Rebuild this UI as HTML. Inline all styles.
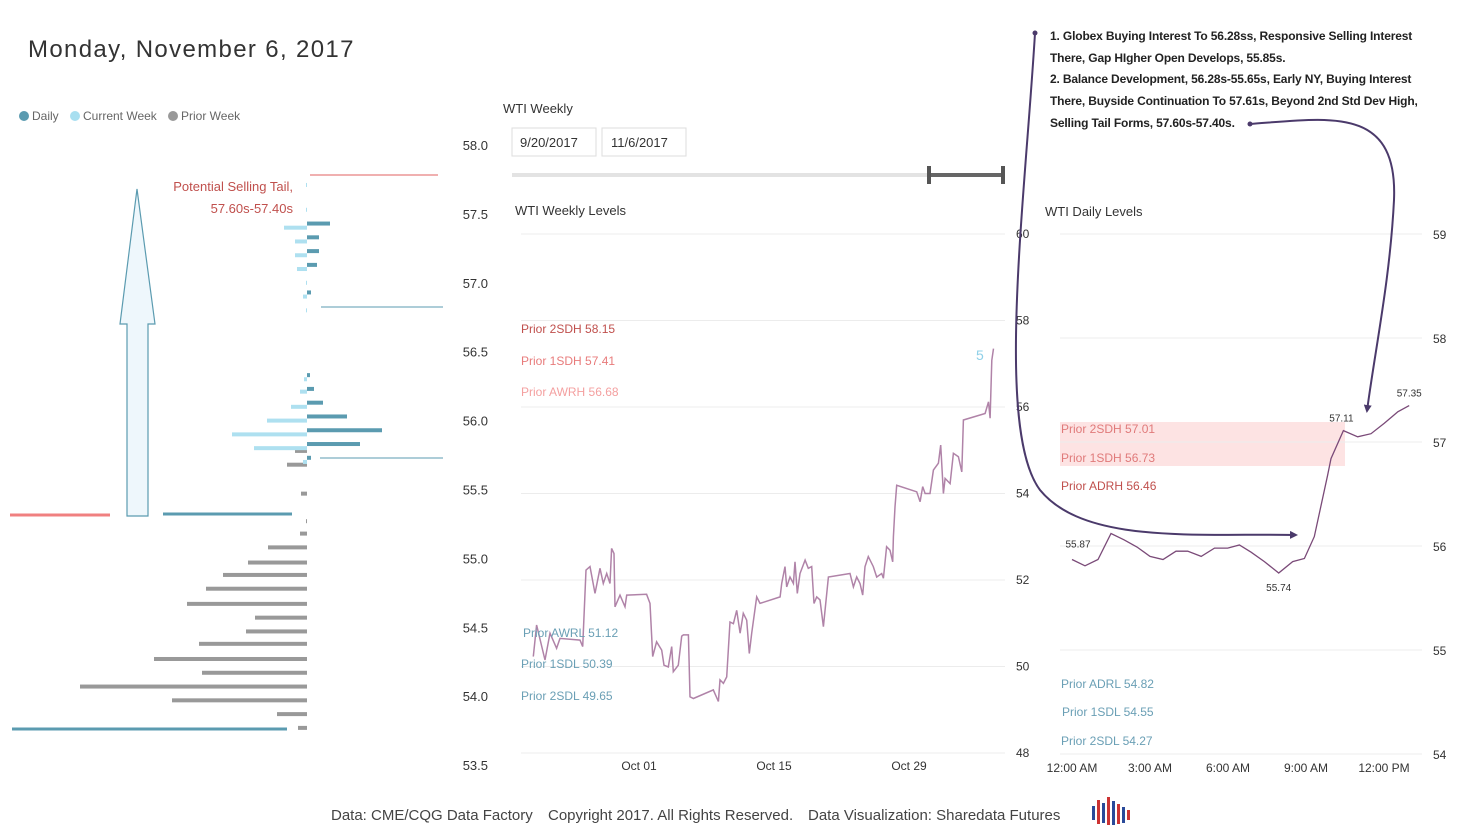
<!DOCTYPE html>
<html><head><meta charset="utf-8"><style>
body{margin:0;background:#fff;width:1458px;height:836px;overflow:hidden;font-family:"Liberation Sans",sans-serif}
svg{position:absolute;left:0;top:0}
text{font-family:"Liberation Sans",sans-serif}
</style></head><body>
<svg id="s" width="1458" height="836" viewBox="0 0 1458 836">
<defs>
<marker id="ah" markerWidth="8" markerHeight="8" refX="6" refY="4" orient="auto" markerUnits="userSpaceOnUse"><path d="M0,0 L8,4 L0,8 z" fill="#4b3a6b"/></marker>
</defs>
<text x="28" y="57" font-size="24" fill="#333" letter-spacing="1.35">Monday, November 6, 2017</text>
<g font-size="12" fill="#666">
<circle cx="24" cy="116" r="5" fill="#5b9bb0"/><text x="32" y="120">Daily</text>
<circle cx="75" cy="116" r="5" fill="#a8dff0"/><text x="83" y="120">Current Week</text>
<circle cx="173" cy="116" r="5" fill="#999"/><text x="181" y="120">Prior Week</text>
</g>
<g id="profile"></g>
<path d="M127,516 L127,324 L120,324 L137,189 L155,324 L148,324 L148,516 Z" fill="#eef7fc" stroke="#5b9bb0" stroke-width="1.2"/>
<line x1="10" y1="515" x2="110" y2="515" stroke="#f08080" stroke-width="3"/>
<line x1="163" y1="514" x2="292" y2="514" stroke="#5b9bb0" stroke-width="3"/>
<line x1="12" y1="729" x2="287" y2="729" stroke="#5b9bb0" stroke-width="3"/>
<line x1="310" y1="175" x2="438" y2="175" stroke="#e06060" stroke-width="1"/>
<line x1="321" y1="307" x2="443" y2="307" stroke="#5b9bb0" stroke-width="1"/>
<line x1="320" y1="458" x2="443" y2="458" stroke="#5b9bb0" stroke-width="1"/>
<text x="293" y="191" font-size="13" fill="#c0504d" text-anchor="end">Potential Selling Tail,</text>
<text x="293" y="213" font-size="13" fill="#c0504d" text-anchor="end">57.60s-57.40s</text>
<g id="paxis" font-size="13" fill="#333" text-anchor="end"></g>

<text x="503" y="113" font-size="13" fill="#333">WTI Weekly</text>
<rect x="512" y="128" width="84" height="28" fill="#fff" stroke="#ddd"/>
<text x="520" y="147" font-size="13" fill="#333">9/20/2017</text>
<rect x="602" y="128" width="84" height="28" fill="#fff" stroke="#ddd"/>
<text x="611" y="147" font-size="13" fill="#333">11/6/2017</text>
<line x1="512" y1="175" x2="1005" y2="175" stroke="#e3e3e3" stroke-width="4"/>
<line x1="929" y1="175" x2="1004" y2="175" stroke="#666" stroke-width="4"/>
<rect x="927" y="166" width="4" height="18" fill="#555"/>
<rect x="1001" y="166" width="4" height="18" fill="#555"/>
<text x="515" y="215" font-size="13" fill="#333">WTI Weekly Levels</text>
<g id="weekly"></g>
<g font-size="12">
<text x="521" y="333" fill="#c0504d">Prior 2SDH 58.15</text>
<text x="521" y="365" fill="#e87b7b">Prior 1SDH 57.41</text>
<text x="521" y="396" fill="#f4a0a0">Prior AWRH 56.68</text>
<text x="523" y="637" fill="#6a9fb5">Prior AWRL 51.12</text>
<text x="521" y="668" fill="#6a9fb5">Prior 1SDL 50.39</text>
<text x="521" y="700" fill="#6a9fb5">Prior 2SDL 49.65</text>
</g>
<text x="976" y="360" font-size="14" fill="#8fd0e8">5</text>

<text x="1045" y="216" font-size="13" fill="#333">WTI Daily Levels</text>
<rect x="1060" y="422" width="285" height="44" fill="#fde3e3"/>
<g id="daily"></g>
<g font-size="12">
<text x="1061" y="433" fill="#e07a7a">Prior 2SDH 57.01</text>
<text x="1061" y="462" fill="#e07a7a">Prior 1SDH 56.73</text>
<text x="1061" y="490" fill="#c0504d">Prior ADRH 56.46</text>
<text x="1061" y="688" fill="#6a9fb5">Prior ADRL 54.82</text>
<text x="1062" y="716" fill="#6a9fb5">Prior 1SDL 54.55</text>
<text x="1061" y="745" fill="#6a9fb5">Prior 2SDL 54.27</text>
</g>

<g font-size="12" font-weight="bold" fill="#222" letter-spacing="-0.15">
<text x="1050" y="40">1. Globex Buying Interest To 56.28ss, Responsive Selling Interest</text>
<text x="1050" y="62">There, Gap HIgher Open Develops, 55.85s.</text>
<text x="1050" y="83">2. Balance Development, 56.28s-55.65s, Early NY, Buying Interest</text>
<text x="1050" y="105">There, Buyside Continuation To 57.61s, Beyond 2nd Std Dev High,</text>
<text x="1050" y="127">Selling Tail Forms, 57.60s-57.40s.</text>
</g>
<circle cx="1035" cy="33" r="2.5" fill="#4b3a6b"/>
<path d="M1035,33 C1025,200 995,430 1040,490 C1085,545 1200,533 1296,535" fill="none" stroke="#4b3a6b" stroke-width="2" marker-end="url(#ah)"/>
<circle cx="1250" cy="124" r="2.5" fill="#4b3a6b"/>
<path d="M1250,124 C1330,118 1398,105 1394,200 C1390,280 1375,350 1367,411" fill="none" stroke="#4b3a6b" stroke-width="2" marker-end="url(#ah)"/>

<text x="331" y="820" font-size="15" fill="#444">Data: CME/CQG Data Factory</text>
<text x="548" y="820" font-size="15" fill="#444">Copyright 2017. All Rights Reserved.</text>
<text x="808" y="820" font-size="15" fill="#444">Data Visualization: Sharedata Futures</text>
<g>
<rect x="1092" y="806" width="3" height="14" fill="#2a4a9a"/><rect x="1097" y="800" width="3" height="24" fill="#c33"/><rect x="1102" y="803" width="3" height="20" fill="#2a4a9a"/><rect x="1107" y="797" width="3" height="28" fill="#c33"/><rect x="1112" y="801" width="3" height="24" fill="#2a4a9a"/><rect x="1117" y="804" width="3" height="20" fill="#c33"/><rect x="1122" y="807" width="3" height="16" fill="#2a4a9a"/><rect x="1127" y="810" width="3" height="10" fill="#c33"/>
</g>
</svg>
<script>
// ---------- Profile data ----------
const dailyPrices=[57.43,57.33,57.23,57.13,56.93,56.33,56.23,56.13,56.03,55.93,55.83,55.73];
const dailyVols=[23,12,12,10,4,3,7,16,40,75,53,4];
const curPrices=[57.71,57.53,57.40,57.30,57.20,57.10,57.00,56.90,56.80,56.30,56.21,56.10,56.00,55.90,55.80,55.70];
const curVols=[1,1,23,12,12,10,1,4,1,3,7,16,40,75,53,4];
const priorPrices=[55.78,55.68,55.47,55.27,55.18,55.08,54.97,54.88,54.78,54.67,54.57,54.47,54.38,54.27,54.17,54.07,53.97,53.87,53.77];
const priorVols=[12,20,6,1,7,39,59,84,101,120,52,61,108,153,105,227,135,30,9];
const profileTicks=[58.0,57.5,57.0,56.5,56.0,55.5,55.0,54.5,54.0,53.5];
// ---------- Weekly data ----------
const weekT=[-10.96,-10.62,-9.75,-9.23,-8.54,-8.19,-6.12,-5.84,-5.50,-5.08,-4.56,-4.04,-3.70,-3.35,-3.01,-2.84,-2.59,-2.49,-1.97,-1.45,-1.28,0.79,1.14,1.42,1.83,2.35,2.59,3.04,3.39,3.56,4.08,4.43,4.60,5.12,5.29,5.64,7.71,8.23,8.40,8.75,9.09,9.44,9.79,10.13,10.48,10.82,11.17,11.44,11.69,12.21,12.55,14.63,14.80,15.14,15.32,15.66,16.01,16.18,16.42,16.70,17.22,17.56,17.91,18.15,18.43,18.77,19.12,19.64,21.88,22.23,22.58,22.92,23.20,23.44,23.78,24.30,24.65,25.17,25.34,25.68,26.03,26.31,26.38,26.55,26.72,28.80,29.15,29.42,29.67,30.18,30.53,31.05,31.29,31.57,31.74,32.26,32.60,33.12,33.47,33.64,35.89,36.24,36.41,36.59,36.76];
const weekP=[50.23,50.96,50.15,50.77,50.42,50.65,50.61,50.46,52.23,52.31,51.69,52.27,51.92,52.15,51.92,52.73,52.61,51.38,51.65,51.38,51.65,51.67,51.46,50.23,50.57,50.38,50.03,49.99,50.46,49.88,50.03,50.70,50.73,50.73,49.30,49.26,49.46,49.19,49.69,49.61,49.76,51.03,50.99,51.30,50.77,51.23,51.07,50.30,50.77,51.61,51.46,51.61,51.92,52.31,51.84,52.07,51.92,52.42,51.69,52.15,52.46,52.27,52.31,51.46,51.61,51.54,50.92,52.07,52.15,51.84,52.07,51.92,51.65,52.31,52.54,52.31,52.07,52.15,52.04,52.77,52.69,52.42,53.00,53.69,54.19,54.04,53.81,54.16,54.00,54.00,54.54,54.70,55.12,54.00,54.35,54.23,54.93,54.85,54.50,55.70,55.85,56.12,55.74,57.08,57.35];
const weekYTicks=[60,58,56,54,52,50,48];
const weekXTickDays=[0,14,28];
const weekXTickLabels=["Oct 01","Oct 15","Oct 29"];
// ---------- Daily data ----------
const dayH=[0,0.5,1,1.5,2,2.5,3,3.5,4,4.45,4.97,5.48,5.99,6.44,6.89,7.4,7.95,8.49,8.94,9.32,9.83,9.96,10.44,10.99,11.5,12.01,12.53,12.97];
const dayP=[55.87,55.81,55.87,56.12,56.06,55.99,55.90,55.87,55.95,55.95,55.90,55.98,55.98,56.01,55.94,55.85,55.74,55.85,55.88,56.09,56.68,56.84,57.11,57.05,57.08,57.18,57.29,57.35];
const dayYTicks=[59,58,57,56,55,54];
const dayXTickHours=[0,3,6,9,12];
const dayXTickLabels=["12:00 AM","3:00 AM","6:00 AM","9:00 AM","12:00 PM"];
const dayLabelIdx=[0,16,22,27];

const NS="http://www.w3.org/2000/svg";
function mk(tag,attrs,parent){const e=document.createElementNS(NS,tag);for(const k in attrs)e.setAttribute(k,attrs[k]);parent.appendChild(e);return e;}
const yP=p=>145+(58-p)*137.8, cx=307;
const yW=p=>234+(60-p)*43.25, xW=t=>639+t*9.643;
const yD=p=>442+(57-p)*104, xD=h=>1072+h*26;

const prof=document.getElementById('profile');
priorPrices.forEach((p,i)=>{const r=mk('rect',{x:cx-priorVols[i],y:yP(p)-2,width:priorVols[i],height:4,fill:'#999'},prof);

});
curPrices.forEach((p,i)=>{const r=mk('rect',{x:cx-curVols[i],y:yP(p)-2,width:curVols[i],height:4,fill:'#aee0f0'},prof);

});
dailyPrices.forEach((p,i)=>{const r=mk('rect',{x:cx,y:yP(p)-2,width:dailyVols[i],height:4,fill:'#5b9bb0'},prof);

});
const pax=document.getElementById('paxis');
profileTicks.forEach(v=>{const t=mk('text',{x:488,y:yP(v)+5},pax);t.textContent=v.toFixed(1);

});

const wk=document.getElementById('weekly');
weekYTicks.forEach(v=>{const l=mk('line',{x1:521,x2:1005,y1:yW(v),y2:yW(v),stroke:'#ececec','stroke-width':1},wk);


const t=mk('text',{x:1016,y:yW(v)+4,'font-size':12,fill:'#333'},wk);t.textContent=v;

});
weekXTickDays.forEach((d,i)=>{const t=mk('text',{x:xW(d),y:770,'font-size':12,fill:'#333','text-anchor':'middle'},wk);t.textContent=weekXTickLabels[i];

});
const wl=mk('polyline',{points:weekT.map((t,i)=>xW(t).toFixed(1)+','+yW(weekP[i]).toFixed(1)).join(' '),fill:'none',stroke:'#b083a8','stroke-width':1.5},wk);



const dy=document.getElementById('daily');
dayYTicks.forEach(v=>{const l=mk('line',{x1:1060,x2:1422,y1:yD(v),y2:yD(v),stroke:'#ececec','stroke-width':1},dy);


const t=mk('text',{x:1433,y:yD(v)+5,'font-size':12,fill:'#333'},dy);t.textContent=v;

});
dayXTickHours.forEach((h,i)=>{const t=mk('text',{x:xD(h),y:772,'font-size':12,fill:'#333','text-anchor':'middle'},dy);t.textContent=dayXTickLabels[i];

});
const dl=mk('polyline',{points:dayH.map((h,i)=>xD(h).toFixed(1)+','+yD(dayP[i]).toFixed(1)).join(' '),fill:'none',stroke:'#7a4a78','stroke-width':1.3},dy);


dayLabelIdx.forEach(i=>{const below=(i===16);const t=mk('text',{x:xD(dayH[i])+(i===0?6:(i===22?-2:0)),y:yD(dayP[i])+(below?18:-9)-(i===0?3:0),'font-size':10,fill:'#333','text-anchor':'middle'},dy);t.textContent=dayP[i].toFixed(2);

});
</script>
</body></html>
